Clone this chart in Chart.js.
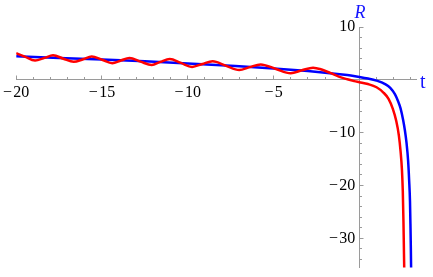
<!DOCTYPE html>
<html><head><meta charset="utf-8">
<script src="https://cdn.jsdelivr.net/npm/chart.js@4/dist/chart.umd.min.js"></script>
<style>html,body{margin:0;padding:0;background:#fff;overflow:hidden}#wrap{width:433px;height:277px;position:relative}</style>
</head><body><div id="wrap"><canvas id="c" width="433" height="277"></canvas></div>
<script>
// ---- data ----
const blueT = [-20, -17.5, -15, -12.5, -10, -7.5, -5, -3, -2, -1, -0.5, 0, 0.5, 1.0, 1.5, 1.8, 2.07, 2.25, 2.4, 2.55, 2.65, 2.75, 2.84, 2.9, 2.95, 2.98, 3.0, 3.02];
const blueR = [4.45, 4.15, 3.85, 3.5, 3.1, 2.65, 2.15, 1.65, 1.35, 1.0, 0.8, 0.55, 0.25, -0.15, -0.8, -1.5, -2.7, -4.0, -5.4, -7.6, -9.5, -12, -15.3, -19, -23, -28, -32, -37];
const redT = [-20, -19.5, -18.9, -18.35, -17.85, -17.25, -16.65, -16.1, -15.6, -15.0, -14.4, -13.9, -13.4, -12.75, -12.1, -11.6, -11.05, -10.4, -9.75, -9.15, -8.55, -7.8, -7.0, -6.4, -5.75, -4.9, -4.0, -3.35, -2.7, -2.2, -1.7, -1.2, -0.7, -0.3, 0, 0.5, 1.0, 1.4, 1.7, 1.95, 2.15, 2.3, 2.4, 2.48, 2.53, 2.57, 2.6, 2.62];
const redR = [5.05, 4.4, 3.65, 4.15, 4.65, 4.0, 3.4, 3.9, 4.43, 3.8, 3.15, 3.65, 4.13, 3.45, 2.8, 3.4, 3.95, 3.2, 2.45, 3.0, 3.52, 2.7, 1.85, 2.4, 2.92, 2.1, 1.25, 1.8, 2.3, 1.95, 1.3, 0.6, 0.1, -0.25, -0.45, -0.8, -1.4, -2.4, -3.6, -5.5, -7.8, -10.5, -13.5, -17, -21, -27, -33, -37];
const xTickLabels = [-20, -15, -10, -5];
const yTickLabels = [10, -10, -20, -30];
const xTitle = 't';
const yTitle = 'R';

const fmt = v => (v < 0 ? '\u2212\u200a' + Math.abs(v) : String(v));
const toPts = (ts, rs) => ts.map((t, i) => ({x: t, y: rs[i]}));

const axisGray = '#9a9a9a';
const serif = '"Liberation Serif", "DejaVu Serif", serif';

const decor = {
  id: 'decor',
  beforeDatasetsDraw(chart) {
    const {ctx, scales: {x, y}} = chart;
    const al = p => Math.round(p - 0.5) + 0.5;
    const ax = al(x.getPixelForValue(0));   // y-axis line position
    const ay = al(y.getPixelForValue(0));   // x-axis line position
    ctx.save();
    ctx.strokeStyle = axisGray;
    ctx.lineWidth = 1;
    ctx.beginPath();
    for (let t = -20; t <= 3; t++) {
      if (t === 0) continue;
      const px = al(x.getPixelForValue(t));
      const len = (t % 5 === 0) ? 4 : 2.5;
      ctx.moveTo(px, ay); ctx.lineTo(px, ay - len);
    }
    for (let v = 10; v >= -34; v -= 2) {
      if (v === 0) continue;
      const py = al(y.getPixelForValue(v));
      const len = (v % 10 === 0) ? 4 : 2.5;
      ctx.moveTo(ax, py); ctx.lineTo(ax + len, py);
    }
    ctx.stroke();
    ctx.fillStyle = '#1414ff';
    ctx.textBaseline = 'alphabetic';
    ctx.textAlign = 'left';
    ctx.font = 'italic 18px ' + serif;
    ctx.fillText(yTitle, ax - 5, 18);
    ctx.font = '20px ' + serif;
    ctx.fillText(xTitle, 420, ay + 8);
    ctx.restore();
  }
};

new Chart(document.getElementById('c'), {
  type: 'scatter',
  data: {
    datasets: [
      {data: toPts(redT, redR), showLine: true, borderColor: '#ff0000', borderWidth: 2.5, pointRadius: 0, cubicInterpolationMode: 'monotone', fill: false},
      {data: toPts(blueT, blueR), showLine: true, borderColor: '#0000ff', borderWidth: 2.5, pointRadius: 0, cubicInterpolationMode: 'monotone', fill: false}
    ]
  },
  options: {
    responsive: false,
    devicePixelRatio: 1,
    animation: false,
    events: [],
    layout: {padding: {left: 14, right: 17, top: 27, bottom: 0}},
    plugins: {legend: {display: false}, tooltip: {enabled: false}},
    scales: {
      x: {
        type: 'linear', min: -20, max: 3.3,
        position: {y: 0},
        afterFit: s => { s.height = 0; },
        afterBuildTicks: s => { s.ticks = xTickLabels.map(v => ({value: v})); },
        grid: {display: true, drawOnChartArea: false, drawTicks: false},
        border: {display: true, color: axisGray, width: 1},
        ticks: {autoSkip: false, maxRotation: 0, padding: 3, color: '#000', font: {family: serif, size: 16}, callback: v => fmt(v)}
      },
      y: {
        type: 'linear', min: -35.5, max: 10,
        position: {x: 0},
        afterFit: s => { s.width = 0; },
        afterBuildTicks: s => { s.ticks = yTickLabels.map(v => ({value: v})); },
        grid: {display: true, drawOnChartArea: false, drawTicks: false},
        border: {display: true, color: axisGray, width: 1},
        ticks: {autoSkip: false, padding: 0, color: '#000', font: {family: serif, size: 16}, callback: v => fmt(v) + ' '}
      }
    }
  },
  plugins: [decor]
});
</script>
</body></html>
